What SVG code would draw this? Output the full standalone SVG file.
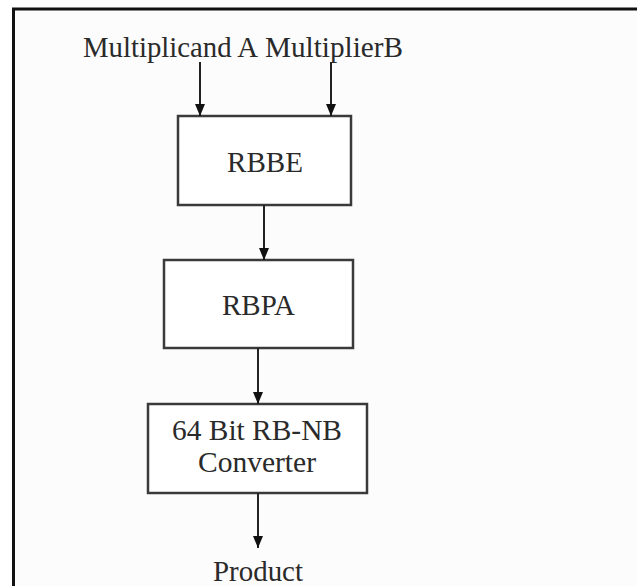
<svg xmlns="http://www.w3.org/2000/svg" width="637" height="586" viewBox="0 0 637 586">
<style>
.t{font-family:"Liberation Serif","Times New Roman",serif;font-size:30px;fill:#2a2a2a}
.box{fill:#ffffff;stroke:#3a3a3a;stroke-width:2.5}
.c{stroke:#222;stroke-width:2;fill:none}
</style>
<defs>
<marker id="arr" markerWidth="12" markerHeight="12" refX="12" refY="6" orient="auto" markerUnits="userSpaceOnUse" viewBox="0 0 12 12">
<path d="M0,1 L12,6 L0,11 Z" fill="#111"/>
</marker>
</defs>
<rect x="0" y="0" width="637" height="586" fill="#ffffff"/>
<rect x="15" y="10" width="622" height="576" fill="#fcfcfc"/>
<path d="M13.5,586 L13.5,9 L637,9" fill="none" stroke="#111" stroke-width="3"/>

<g id="inputs">
<text class="t" x="83" y="57" textLength="175" lengthAdjust="spacingAndGlyphs">Multiplicand A</text>
<text class="t" x="265" y="57" textLength="138" lengthAdjust="spacingAndGlyphs">MultiplierB</text>
</g>

<g id="rbbe">
<rect class="box" x="178" y="116" width="173" height="89"/>
<text class="t" x="227" y="172" textLength="76" lengthAdjust="spacingAndGlyphs">RBBE</text>
</g>

<g id="rbpa">
<rect class="box" x="164" y="260" width="189" height="88"/>
<text class="t" x="222" y="315" textLength="73" lengthAdjust="spacingAndGlyphs">RBPA</text>
</g>

<g id="converter">
<rect class="box" x="148" y="404" width="219" height="89"/>
<text class="t" x="172" y="440" textLength="170" lengthAdjust="spacingAndGlyphs">64 Bit RB-NB</text>
<text class="t" x="198" y="472" textLength="118" lengthAdjust="spacingAndGlyphs">Converter</text>
</g>

<g id="product">
<text class="t" x="213" y="581" textLength="90" lengthAdjust="spacingAndGlyphs">Product</text>
</g>

<g id="connectors">
<line class="c" x1="200" y1="62" x2="200" y2="116" marker-end="url(#arr)"/>
<line class="c" x1="331" y1="62" x2="331" y2="116" marker-end="url(#arr)"/>
<line class="c" x1="264" y1="205" x2="264" y2="260" marker-end="url(#arr)"/>
<line class="c" x1="258" y1="348" x2="258" y2="404" marker-end="url(#arr)"/>
<line class="c" x1="258" y1="493" x2="258" y2="548" marker-end="url(#arr)"/>
</g>
</svg>
